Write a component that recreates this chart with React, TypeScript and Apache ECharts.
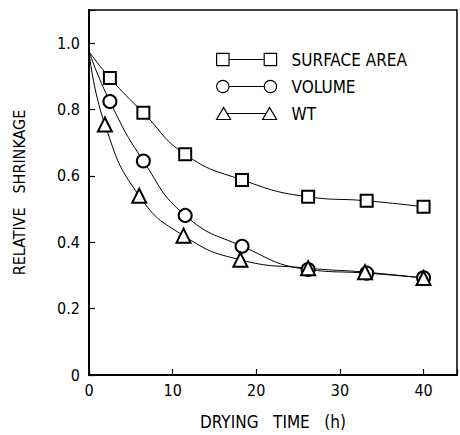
import React, { useEffect, useRef } from "react";
import * as echarts from "echarts";

const seriesNames = ["SURFACE AREA", "VOLUME", "WT"];
const timeHours = [0, 2.5, 6.5, 11.5, 18.3, 26.2, 33.2, 40];
const surfaceArea = [0.975, 0.895, 0.79, 0.665, 0.588, 0.537, 0.525, 0.507];
const volume = [0.975, 0.824, 0.645, 0.481, 0.388, 0.318, 0.307, 0.293];
const wtTimeHours = [0, 1.9, 6.0, 11.3, 18.1, 26.2, 33.0, 40];
const wt = [0.975, 0.755, 0.54, 0.42, 0.347, 0.322, 0.31, 0.292];
const xTicks = [0, 10, 20, 30, 40];
const yTicks = [0, 0.2, 0.4, 0.6, 0.8, 1.0];

const FONT = '"DejaVu Sans Condensed", "Liberation Sans Narrow", "DejaVu Sans", sans-serif';

const iconSquare = "path://M1,1H13V13H1Z M13,7H47 M47,1H59V13H47Z";
const iconCircle = "path://M1,7A6,6 0 1,0 13,7A6,6 0 1,0 1,7Z M13,7H47 M47,7A6,6 0 1,0 59,7A6,6 0 1,0 47,7Z";
const iconTriangle = "path://M0,13L7,1L14,13Z M10.5,7H49.5 M46,13L53,1L60,13Z";

function build(xs: number[], ys: number[]) {
  return ys.map((y, i) =>
    i === 0 ? { value: [xs[i], y], symbol: "none" } : { value: [xs[i], y] }
  );
}

export default function App() {
  const ref = useRef<HTMLDivElement>(null);
  useEffect(() => {
    if (!ref.current) return;
    const chart = echarts.init(ref.current, undefined, { renderer: "svg" });
    const lineCommon = {
      type: "line" as const,
      smooth: 0.5,
      lineStyle: { color: "#000", width: 1 },
      itemStyle: { color: "#000", borderColor: "#000", borderWidth: 1.2 },
      showAllSymbol: true,
    };
    chart.setOption({
      animation: false,
      backgroundColor: "#fff",
      textStyle: { fontFamily: FONT },
      grid: {
        left: 89,
        top: 10,
        right: 0,
        bottom: 57,
        show: true,
        borderColor: "#000",
        borderWidth: 1.5,
      },
      legend: {
        orient: "vertical",
        left: 211,
        top: 46,
        itemWidth: 60,
        itemHeight: 14,
        itemGap: 10,
        selectedMode: false,
        itemStyle: { color: "#fff", borderColor: "#000", borderWidth: 1.2 },
        textStyle: { fontFamily: FONT, fontSize: 17, color: "#000", padding: [0, 0, 0, 10] },
        data: [
          { name: seriesNames[0], icon: iconSquare },
          { name: seriesNames[1], icon: iconCircle },
          { name: seriesNames[2], icon: iconTriangle },
        ],
      },
      xAxis: {
        type: "value",
        min: 0,
        max: 44,
        interval: 10,
        name: "DRYING   TIME   (h)",
        nameLocation: "middle",
        nameGap: 38,
        nameTextStyle: { fontFamily: FONT, fontSize: 17, color: "#000" },
        axisLine: { show: true, lineStyle: { color: "#000", width: 2 } },
        axisTick: { show: true, inside: true, length: 6, lineStyle: { color: "#000", width: 1.2 } },
        axisLabel: {
          fontFamily: FONT,
          fontSize: 16,
          color: "#000",
          margin: 7,
          formatter: (v: number) => (xTicks.includes(v) ? String(v) : ""),
        },
        splitLine: { show: false },
      },
      yAxis: {
        type: "value",
        min: 0,
        max: 1.1,
        interval: 0.2,
        name: "RELATIVE   SHRINKAGE",
        nameLocation: "middle",
        nameGap: 62,
        nameRotate: 90,
        nameTextStyle: { fontFamily: FONT, fontSize: 16, color: "#000" },
        axisLine: { show: true, lineStyle: { color: "#000", width: 2 } },
        axisTick: { show: true, inside: true, length: 6, lineStyle: { color: "#000", width: 1.2 } },
        axisLabel: {
          fontFamily: FONT,
          fontSize: 16,
          color: "#000",
          margin: 9,
          formatter: (v: number) => {
            const hit = yTicks.find((t) => Math.abs(t - v) < 1e-6);
            if (hit === undefined) return "";
            return hit === 0 ? "0" : hit.toFixed(1);
          },
        },
        splitLine: { show: false },
      },
      series: [
        { ...lineCommon, name: seriesNames[0], symbol: "emptyRect", symbolSize: 12, data: build(timeHours, surfaceArea) },
        { ...lineCommon, name: seriesNames[1], symbol: "emptyCircle", symbolSize: 13, data: build(timeHours, volume) },
        { ...lineCommon, name: seriesNames[2], symbol: "emptyTriangle", symbolSize: 14, data: build(wtTimeHours, wt) },
      ],
    });
    return () => chart.dispose();
  }, []);
  return <div ref={ref} style={{ width: 460, height: 435, position: "absolute", left: 0, top: 0 }} />;
}
